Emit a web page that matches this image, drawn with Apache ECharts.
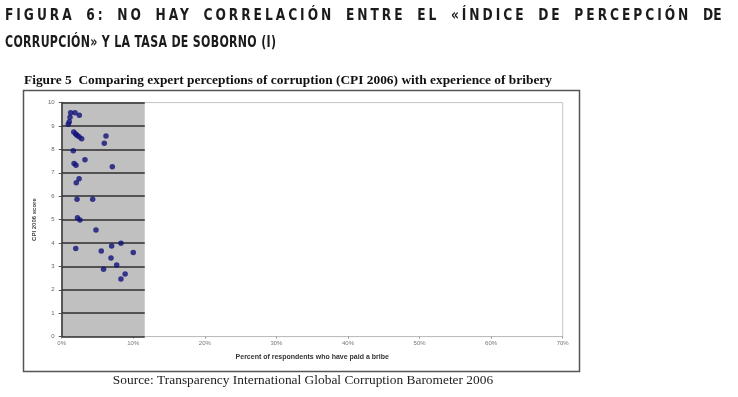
<!DOCTYPE html>
<html>
<head>
<meta charset="utf-8">
<script src="https://cdn.jsdelivr.net/npm/echarts@6/dist/echarts.min.js"></script>
<style>
  html, body { margin: 0; padding: 0; background: #fff; }
  #wrap { position: relative; width: 738px; height: 397px; overflow: hidden; }
  #chart { position: absolute; left: 0; top: 0; width: 738px; height: 397px; }
  .hd {
    position: absolute; left: 5px;
    font-family: 'Liberation Sans Narrow', 'DejaVu Sans Condensed', sans-serif;
    font-stretch: condensed; font-weight: bold; font-size: 16px; line-height: 20px;
    color: #1b1b1b; white-space: nowrap;
    transform: scaleX(0.765); transform-origin: 0 0;
  }
  #h1 { top: 5px; width: 843px; display: flex; justify-content: space-between; letter-spacing: 3.5px; transform: scaleX(0.85); }
  #h1 span:last-child { letter-spacing: 0; }
  #h2 { top: 32px; letter-spacing: 0.4px; }
</style>
</head>
<body>
<div id="wrap">
  <div id="chart"></div>
  <div class="hd" id="h1"></div>
  <div class="hd" id="h2"></div>
</div>
<script>
// header text (justified first line, as in the report)
const headerLine1 = 'FIGURA 6: NO HAY CORRELACIÓN ENTRE EL «ÍNDICE DE PERCEPCIÓN DE';
const headerLine2 = 'CORRUPCIÓN» Y LA TASA DE SOBORNO (I)';
const chartTitle = 'Figure 5  Comparing expert perceptions of corruption (CPI 2006) with experience of bribery';
const sourceNote = 'Source: Transparency International Global Corruption Barometer 2006';
const xName = 'Percent of respondents who have paid a bribe';
const yName = 'CPI 2006 score';

// scatter values: % who paid a bribe, CPI 2006 score
const bribePct = [1.25, 1.86, 2.46, 1.16, 1.06, 0.92, 1.68, 1.95, 2.14, 2.42, 2.79, 6.19, 5.95,
  1.62, 3.25, 1.73, 2.00, 7.07, 2.43, 2.04, 2.14, 4.33, 2.20, 2.55, 4.79, 8.28, 1.96, 6.98,
  5.53, 10.0, 6.89, 7.68, 5.85, 8.86, 8.28];
const cpiScore = [9.57, 9.57, 9.46, 9.37, 9.18, 9.08, 8.74, 8.66, 8.60, 8.54, 8.46, 8.57, 8.26,
  7.94, 7.56, 7.40, 7.32, 7.26, 6.75, 6.58, 5.87, 5.87, 5.08, 4.98, 4.56, 3.99, 3.76, 3.87,
  3.66, 3.59, 3.36, 3.06, 2.88, 2.68, 2.46];

// axis ranges
const xMin = 0, xMax = 70, xStep = 10;
const yMin = 0, yMax = 10, yStep = 1;
const shadedMax = 11.6; // grey plot band only covers the first ~11.6%

document.getElementById('h1').innerHTML =
  headerLine1.split(' ').map(w => '<span>' + w + '</span>').join('');
document.getElementById('h2').textContent = headerLine2;

const points = bribePct.map((x, i) => [x, cpiScore[i]]);

const chart = echarts.init(document.getElementById('chart'));

const plotLeft = 61.7, plotRight = 175.3, plotTop = 102.6, plotBottom = 60.4;
const plotW = 738 - plotLeft - plotRight;

chart.setOption({
  animation: false,
  backgroundColor: '#fff',
  grid: [
    {
      left: plotLeft, right: plotRight, top: plotTop, bottom: plotBottom,
      show: true, backgroundColor: '#fff', borderColor: '#c4c4c4', borderWidth: 1
    },
    {
      left: plotLeft, width: plotW * shadedMax / xMax, top: plotTop, bottom: plotBottom,
      show: true, backgroundColor: '#c0c0c0', borderWidth: 0
    }
  ],
  xAxis: [
    {
      gridIndex: 0, type: 'value', min: xMin, max: xMax, interval: xStep,
      name: xName, nameLocation: 'middle', nameGap: 17,
      nameTextStyle: { fontFamily: 'Liberation Sans', fontSize: 7, fontWeight: 'bold', color: '#333' },
      axisLine: { lineStyle: { color: '#bdbdbd', width: 1 } },
      axisTick: { length: 2, lineStyle: { color: '#999' } },
      axisLabel: { formatter: '{value}%', fontFamily: 'Liberation Sans', fontSize: 6, color: '#777', margin: 4 },
      splitLine: { show: false }
    },
    {
      gridIndex: 1, type: 'value', min: 0, max: shadedMax, show: false
    }
  ],
  yAxis: [
    {
      gridIndex: 0, type: 'value', min: yMin, max: yMax, interval: yStep, z: 2,
      name: yName, nameLocation: 'middle', nameRotate: 90, nameGap: 19,
      nameTextStyle: { fontFamily: 'Liberation Sans', fontSize: 6, fontWeight: 'bold', color: '#444' },
      axisLine: { lineStyle: { color: '#333', width: 1.5 } },
      axisTick: { length: 3, lineStyle: { color: '#555' } },
      axisLabel: { fontFamily: 'Liberation Sans', fontSize: 6, color: '#666', margin: 7 },
      splitLine: { show: false }
    },
    {
      gridIndex: 1, type: 'value', min: yMin, max: yMax, interval: yStep, z: 1,
      axisLine: { show: false }, axisTick: { show: false }, axisLabel: { show: false },
      splitLine: { show: true, lineStyle: { color: '#2e2e2e', width: 1.5 } }
    }
  ],
  series: [
    {
      type: 'scatter', xAxisIndex: 0, yAxisIndex: 0, z: 5,
      symbol: 'circle', symbolSize: 5.5,
      itemStyle: { color: '#10107a' },
      data: points
    }
  ],
  graphic: [
    {
      type: 'rect', silent: true,
      shape: { x: 23.5, y: 90.5, width: 556, height: 281 },
      style: { fill: 'none', stroke: '#555', lineWidth: 1.5 }
    },
    {
      type: 'text', silent: true, x: 24, y: 81,
      style: { text: chartTitle, font: 'bold 13.4px "Liberation Serif"', fill: '#111', textVerticalAlign: 'middle' }
    },
    {
      type: 'text', silent: true, x: 303, y: 380,
      style: { text: sourceNote, font: '13.4px "Liberation Serif"', fill: '#222', textAlign: 'center', textVerticalAlign: 'middle' }
    }
  ]
});
</script>
</body>
</html>
